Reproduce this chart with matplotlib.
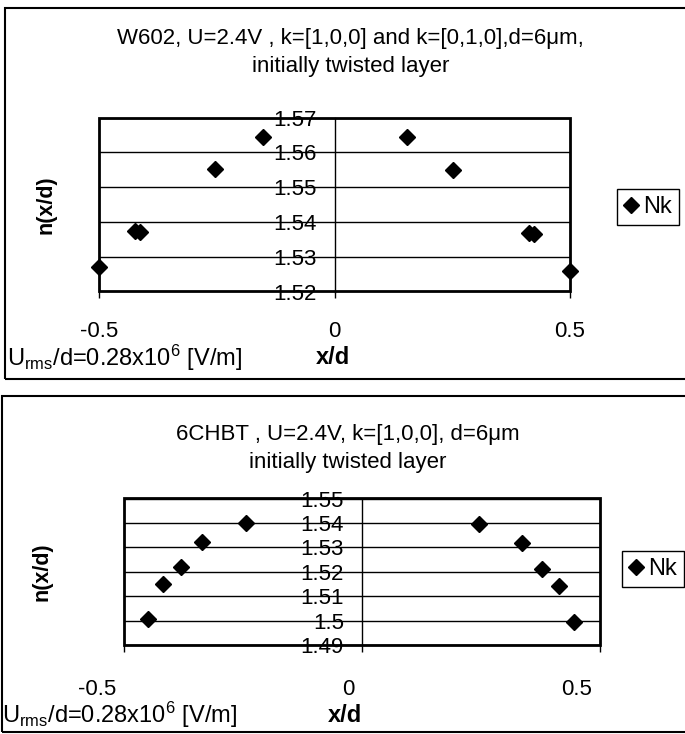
import matplotlib
matplotlib.use('Agg')
import matplotlib.pyplot as plt
from matplotlib.patches import Rectangle
from matplotlib.transforms import ScaledTranslation

plt.rcParams['font.family'] = ['Liberation Sans', 'DejaVu Sans']
plt.rcParams['mathtext.fontset'] = 'custom'
plt.rcParams['mathtext.rm'] = 'Liberation Sans'
plt.rcParams['mathtext.it'] = 'Liberation Sans:italic'
plt.rcParams['mathtext.bf'] = 'Liberation Sans:bold'

# W602 profile (top)
w602_x = [-0.5, -0.423, -0.413, -0.254, -0.152, 0.154, 0.252, 0.412, 0.423, 0.5]
w602_n = [1.5269, 1.5374, 1.5370, 1.5551, 1.5645, 1.5643, 1.5548, 1.5369, 1.5366, 1.5260]
w602_yticks = [1.52, 1.53, 1.54, 1.55, 1.56, 1.57]
w602_ylabels = ['1.52', '1.53', '1.54', '1.55', '1.56', '1.57']

# 6CHBT profile (bottom)
chbt_x = [-0.450, -0.418, -0.380, -0.336, -0.244, 0.246, 0.336, 0.378, 0.414, 0.445]
chbt_n = [1.5007, 1.5148, 1.5218, 1.5321, 1.5400, 1.5396, 1.5317, 1.5210, 1.5140, 1.4996]
chbt_yticks = [1.49, 1.50, 1.51, 1.52, 1.53, 1.54, 1.55]
chbt_ylabels = ['1.49', '1.5', '1.51', '1.52', '1.53', '1.54', '1.55']

xticks = [-0.5, 0, 0.5]
xlabels = ['-0.5', '0', '0.5']

titles = ['W602, U=2.4V , k=[1,0,0] and k=[0,1,0],d=6\u03bcm,\ninitially twisted layer',
          '6CHBT , U=2.4V, k=[1,0,0], d=6\u03bcm\ninitially twisted layer']
field_text = r'U$_{\rm rms}$/d=0.28x10$^6$ [V/m]'

W, H = 685, 734
fig = plt.figure(figsize=(W / 100, H / 100), dpi=100)


def fx(px):
    return px / W


def fy(py):
    return 1 - py / H


def draw_panel(rect, x, n, yticks, ylabels, xpad):
    ax = fig.add_axes(rect)
    # y axis crosses at x=0 like the Excel original
    for s in ['top', 'right', 'bottom']:
        ax.spines[s].set_visible(False)
    ax.spines['left'].set_position(('data', 0))
    ax.spines['left'].set_linewidth(1)
    ax.plot(x, n, 'D', color='black', ms=8.5, ls='none', label='Nk', clip_on=False, zorder=4)
    ax.set_xlim(-0.5, 0.5)
    ax.set_ylim(yticks[0], yticks[-1])
    ax.set_xticks(xticks)
    ax.set_xticklabels(xlabels)
    ax.set_yticks(yticks)
    ax.set_yticklabels(ylabels)
    ax.yaxis.grid(True, color='black', lw=1)
    ax.tick_params(axis='y', length=0, pad=13, labelsize=16)
    ax.tick_params(axis='x', length=5, width=1, direction='out', pad=xpad, labelsize=16)
    ax.add_patch(Rectangle((0, 0), 1, 1, transform=ax.transAxes, fill=False,
                           lw=2, ec='black', clip_on=False, zorder=3))
    return ax


def add_legend(ax, px, py):
    leg = ax.legend(loc='center left', bbox_to_anchor=(fx(px), fy(py)), bbox_transform=fig.transFigure,
                    fancybox=False, edgecolor='black', framealpha=1, fontsize=17, numpoints=1,
                    handlelength=0.6, handletextpad=0.2, borderpad=0.3, borderaxespad=0)
    leg.get_frame().set_linewidth(1)


# top panel
ax1 = draw_panel([fx(99), fy(291.5), fx(570) - fx(99), fy(117.5) - fy(291.5)],
                 w602_x, w602_n, w602_yticks, w602_ylabels, 16.5)
ax1.set_ylabel('n(x/d)', fontsize=15.5, fontweight='bold')
ax1.yaxis.set_label_coords((57 - 99) / 471, 0.5)
ax1.set_xlabel('x/d', fontsize=17, fontweight='bold')
ax1.xaxis.label.set_va('center')
ax1.xaxis.set_label_coords((333 - 99) / 471, (291.5 - 358) / 174)
add_legend(ax1, 617, 207)
fig.text(0.512, fy(52.5), titles[0], ha='center', va='center', fontsize=16, linespacing=1.45)
fig.text(fx(7), fy(358), field_text, ha='left', va='center', fontsize=17)

# bottom panel
ax2 = draw_panel([fx(124), fy(645), fx(600) - fx(124), fy(498.5) - fy(645)],
                 chbt_x, chbt_n, chbt_yticks, chbt_ylabels, 19.5)
ax2.set_ylabel('n(x/d)', fontsize=15.5, fontweight='bold')
ax2.yaxis.set_label_coords((52 - 124) / 476, 0.5)
ax2.set_xlabel('x/d', fontsize=17, fontweight='bold')
ax2.xaxis.label.set_va('center')
ax2.xaxis.set_label_coords((345 - 124) / 476, (645 - 715) / 146.5)
# tick labels in the original sit a little left of their ticks
for lab, dx in zip(ax2.get_xticklabels(), [-27, -14, -23]):
    lab.set_transform(lab.get_transform() + ScaledTranslation(dx / 100, 0, fig.dpi_scale_trans))
add_legend(ax2, 622, 569)
fig.text(fx(348), fy(448.5), titles[1], ha='center', va='center', fontsize=16, linespacing=1.4)
fig.text(fx(2), fy(715), field_text, ha='left', va='center', fontsize=17)

# outer chart frames (right side runs off the page)
fig.add_artist(Rectangle((fx(5), fy(379)), 1.1, fy(8) - fy(379), transform=fig.transFigure,
                         fill=False, lw=1.5, ec='black'))
fig.add_artist(Rectangle((fx(2), fy(732)), 1.1, fy(396) - fy(732), transform=fig.transFigure,
                         fill=False, lw=1.5, ec='black'))

fig.savefig('out.png', dpi=100)
